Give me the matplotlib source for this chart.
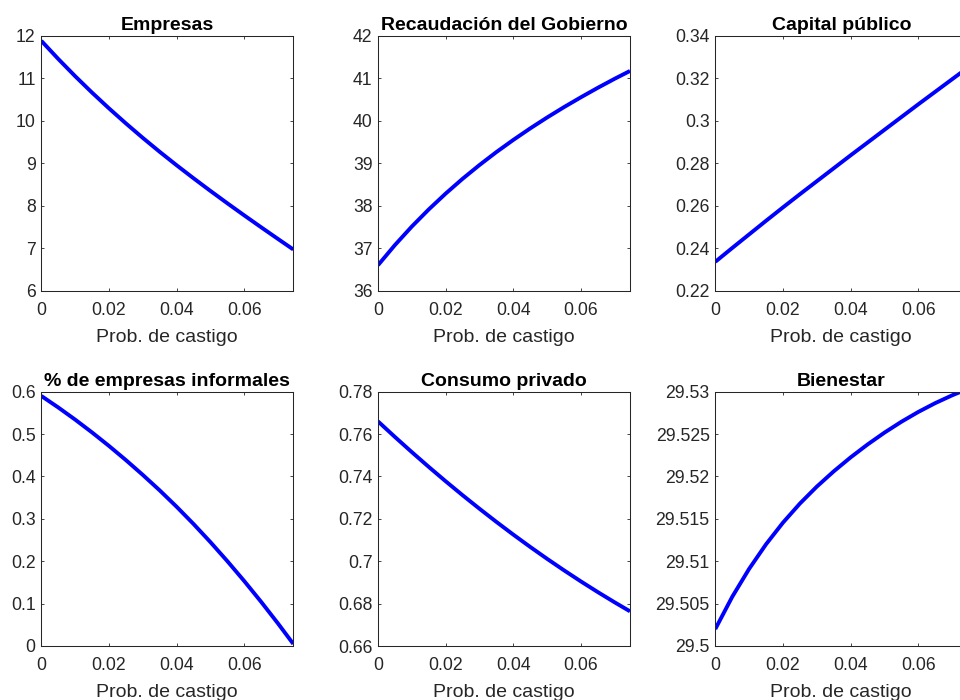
import matplotlib
matplotlib.use("Agg")
import matplotlib.pyplot as plt
from matplotlib.ticker import FixedLocator, FuncFormatter

plt.rcParams['font.family'] = ['Liberation Sans', 'DejaVu Sans']

# Probabilidad de castigo (eje x)
prob = [0.0, 0.005, 0.01, 0.015, 0.02, 0.025, 0.03, 0.035, 0.04,
        0.045, 0.05, 0.055, 0.06, 0.065, 0.07, 0.0745]

empresas = [11.880, 11.454, 11.048, 10.661, 10.291, 9.937, 9.596, 9.268, 8.952,
            8.646, 8.348, 8.057, 7.772, 7.492, 7.216, 6.970]
recaudacion = [36.600, 37.074, 37.510, 37.912, 38.285, 38.633, 38.957, 39.262, 39.548,
               39.819, 40.076, 40.320, 40.552, 40.775, 40.988, 41.171]
capital = [0.2336, 0.2401, 0.2465, 0.2529, 0.2592, 0.2654, 0.2715, 0.2776, 0.2837,
           0.2897, 0.2957, 0.3017, 0.3077, 0.3136, 0.3195, 0.3248]
informales = [0.5900, 0.5629, 0.5342, 0.5039, 0.4721, 0.4387, 0.4037, 0.3672, 0.3286,
              0.2879, 0.2451, 0.2002, 0.1532, 0.1041, 0.0529, 0.0049]
consumo = [0.76600, 0.75865, 0.75149, 0.74452, 0.73774, 0.73116, 0.72477, 0.71857, 0.71256,
           0.70675, 0.70113, 0.69570, 0.69046, 0.68542, 0.68057, 0.67636]
bienestar = [29.50200, 29.50580, 29.50910, 29.51200, 29.51455, 29.51680, 29.51880, 29.52060,
             29.52225, 29.52377, 29.52517, 29.52645, 29.52761, 29.52865, 29.52957, 29.53031]

titles = ['Empresas', 'Recaudación del Gobierno', 'Capital público',
          '% de empresas informales', 'Consumo privado', 'Bienestar']
xlabel = 'Prob. de castigo'
xticks = [0, 0.02, 0.04, 0.06]
yticks_list = [
    [6, 7, 8, 9, 10, 11, 12],
    [36, 37, 38, 39, 40, 41, 42],
    [0.22, 0.24, 0.26, 0.28, 0.30, 0.32, 0.34],
    [0, 0.1, 0.2, 0.3, 0.4, 0.5, 0.6],
    [0.66, 0.68, 0.70, 0.72, 0.74, 0.76, 0.78],
    [29.5, 29.505, 29.51, 29.515, 29.52, 29.525, 29.53],
]
series = [empresas, recaudacion, capital, informales, consumo, bienestar]

fig = plt.figure(figsize=(9.6, 7.0), dpi=100)

W, H = 960.0, 700.0
lefts = [41.3, 378.0, 715.3]
ax_w = 252.0
tops = [35.7, 391.7]
ax_h = [255.0, 254.3]

gray = '#262626'
fmt = FuncFormatter(lambda v, p: '{:g}'.format(round(v, 6)))

for i in range(6):
    r, c = divmod(i, 3)
    x0 = lefts[c] / W
    y0 = 1 - (tops[r] + ax_h[r]) / H
    ax = fig.add_axes([x0, y0, ax_w / W, ax_h[r] / H])
    ax.plot(prob, series[i], color='#0000ff', linewidth=2.8, solid_capstyle='butt')
    yt = yticks_list[i]
    ax.set_xlim(0, 0.0745)
    ax.set_ylim(yt[0], yt[-1])
    ax.xaxis.set_major_locator(FixedLocator(xticks))
    ax.yaxis.set_major_locator(FixedLocator(yt))
    ax.xaxis.set_major_formatter(fmt)
    ax.yaxis.set_major_formatter(fmt)
    ax.tick_params(direction='in', length=2.5, width=0.6, colors=gray,
                   labelsize=12.7, top=True, right=True)
    ax.tick_params(axis='x', pad=8)
    ax.tick_params(axis='y', pad=4)
    for s in ax.spines.values():
        s.set_color(gray)
        s.set_linewidth(0.75)
    ax.set_title(titles[i], fontsize=14, fontweight='bold', color='black', pad=4)
    ax.set_xlabel(xlabel, fontsize=14, color=gray, labelpad=7)

fig.savefig('out.png', dpi=100)
